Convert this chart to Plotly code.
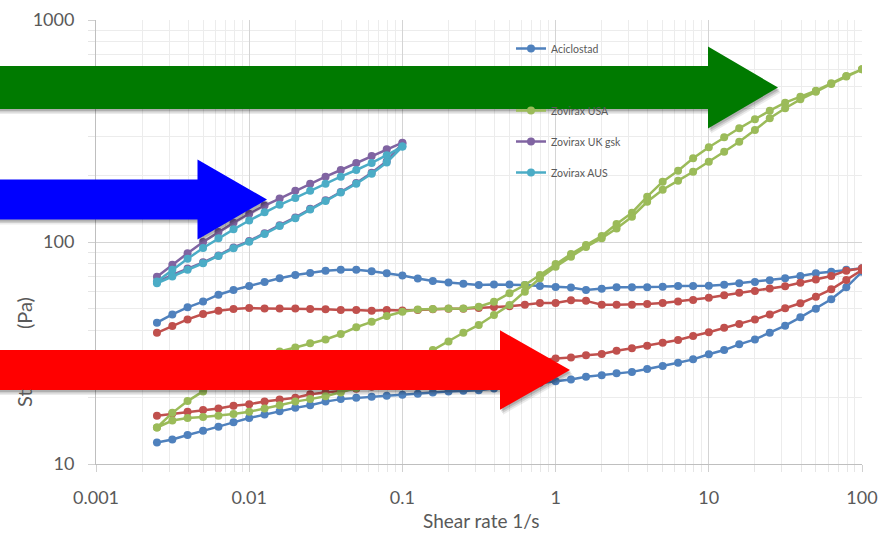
import plotly.graph_objects as go

# ---------------- data ----------------
shear_rate = [0.0025, 0.00315, 0.00396, 0.005, 0.0063, 0.0079, 0.01, 0.0126, 0.0158, 0.02,
              0.025, 0.0315, 0.0396, 0.05, 0.063, 0.079, 0.1, 0.126, 0.158, 0.2,
              0.25, 0.315, 0.396, 0.5, 0.63, 0.79, 1, 1.26, 1.58, 2,
              2.5, 3.15, 3.96, 5, 6.3, 7.9, 10, 12.6, 15.8, 20,
              25, 31.5, 39.6, 50, 63, 79, 100]
shear_rate_short = [0.0025, 0.00315, 0.00396, 0.005, 0.0063, 0.0079, 0.01, 0.0126, 0.0158, 0.02,
                    0.025, 0.0315, 0.0396, 0.05, 0.063, 0.079, 0.1]

aciclostad_up = [43.3, 47.2, 50.8, 53.9, 57.9, 60.8, 63.4, 66.1, 68.6, 71.0,
                 72.5, 74.3, 74.9, 74.9, 73.8, 72.3, 70.7, 68.5, 66.8, 65.7,
                 64.8, 64.0, 64.3, 64.3, 64.0, 63.3, 62.7, 62.3, 60.8, 61.5,
                 62.5, 62.5, 62.5, 62.9, 63.4, 63.4, 63.6, 64.2, 65.2, 66.1,
                 67.2, 68.6, 70.3, 72.3, 73.4, 74.9, 76.1]
aciclostad_down = [12.5, 12.9, 13.5, 14.1, 14.7, 15.4, 16.1, 16.7, 17.3, 17.9,
                   18.4, 19.1, 19.6, 19.9, 20.1, 20.3, 20.5, 20.7, 21.0, 21.2,
                   21.4, 21.5, 21.9, 22.3, 22.7, 23.2, 23.6, 24.0, 24.7, 25.1,
                   25.6, 26.0, 26.8, 27.6, 28.6, 29.6, 31.2, 32.6, 34.6, 36.4,
                   39.0, 42.0, 45.8, 50.1, 55.2, 62.5, 73.4]

red_up = [39.0, 41.8, 44.8, 47.4, 49.0, 49.9, 50.4, 50.2, 50.2, 50.2,
          49.9, 49.8, 49.4, 49.4, 49.0, 49.4, 49.2, 49.4, 49.8, 50.1,
          50.1, 50.4, 50.9, 51.3, 52.2, 53.1, 53.1, 54.6, 54.3, 52.2,
          52.2, 52.2, 52.6, 53.1, 54.0, 54.8, 56.1, 57.6, 59.0, 60.2,
          61.7, 63.2, 65.5, 67.8, 70.3, 74.3, 76.1]
red_down = [16.5, 16.9, 17.2, 17.5, 17.8, 18.3, 18.6, 19.1, 19.5, 19.9,
            20.6, 21.0, 21.3, 21.8, 22.3, 22.9, 23.5, 24.1, 24.8, 25.5,
            26.2, 26.9, 27.6, 28.3, 28.9, 29.4, 29.9, 30.2, 30.9, 31.3,
            32.4, 33.2, 34.1, 35.2, 36.2, 37.7, 39.2, 41.1, 42.7, 44.8,
            47.2, 50.3, 53.0, 56.7, 61.2, 67.4, 74.8]

usa_up = [14.6, 17.0, 19.2, 21.2, 23.5, 26.0, 28.3, 30.3, 32.1, 33.5,
          35.0, 36.4, 38.5, 41.3, 43.7, 46.4, 48.5, 49.7, 49.9, 50.2,
          50.2, 51.1, 53.8, 58.7, 64.0, 71.0, 79.6, 88.3, 96.9, 106.4,
          120.6, 135.5, 160.0, 186.9, 209.5, 238.2, 267.1, 296.2, 325.2, 357.1,
          390.3, 424.1, 451.3, 480.2, 518.8, 559.4, 599.6]
usa_down = [14.6, 15.7, 16.1, 16.3, 16.5, 16.8, 17.2, 17.8, 18.4, 19.1,
            19.6, 20.2, 21.0, 22.0, 23.5, 25.5, 28.0, 30.2, 32.6, 35.6,
            39.0, 42.3, 46.9, 52.0, 59.7, 68.6, 77.4, 85.9, 95.0, 104.0,
            115.0, 130.0, 151.8, 172.0, 189.0, 207.3, 230.0, 255.1, 283.0, 319.5,
            360.8, 400.2, 439.2, 475.0, 515.0, 557.0, 599.6]

uk_up = [69.8, 79, 89, 100, 111, 122, 134, 146, 157, 170, 183, 197, 211, 227, 244, 262, 280]
uk_down = [66, 71, 76, 81, 87, 94.5, 101, 109.5, 119, 129, 141, 154, 168, 184.5, 205, 231, 278]

aus_up = [66.3, 75, 84, 94, 104, 114, 125, 136, 147, 158, 170, 183, 197, 211, 227, 246, 269]
aus_down = [65.2, 70, 75, 80.2, 86.5, 93.7, 100.3, 108.6, 118, 128, 140, 153, 167, 183, 203, 228, 269]

x_ticks = [0.001, 0.01, 0.1, 1, 10, 100]
x_tick_labels = ["0.001", "0.01", "0.1", "1", "10", "100"]
y_ticks = [10, 100, 1000]
y_tick_labels = ["10", "100", "1000"]

# ---------------- layout constants ----------------
W, H = 879, 536
L, R, T, B = 96, 862, 20, 464          # plot area in window pixels
FONT = "Lato, 'Open Sans', sans-serif"
GREY = "#595959"
ARROW_RED = "#FF0000"


def loop(x, up, down):
    return list(x) + list(x)[::-1], list(up) + list(down)[::-1]


series = [
    ("Aciclostad", "#4F81BD", shear_rate, aciclostad_up, aciclostad_down, True, 1),
    ("Aciclovir", "#C0504D", shear_rate, red_up, red_down, False, 2),
    ("Zovirax USA", "#9BBB59", shear_rate, usa_up, usa_down, True, 3),
    ("Zovirax UK gsk", "#8064A2", shear_rate_short, uk_up, uk_down, True, 4),
    ("Zovirax AUS", "#4BACC6", shear_rate_short, aus_up, aus_down, True, 5),
]

fig = go.Figure()
for name, color, xs, up, down, show, rank in series:
    xx, yy = loop(xs, up, down)
    fig.add_trace(go.Scatter(
        x=xx, y=yy, name=name, mode="lines+markers",
        line=dict(color=color, width=2.5),
        marker=dict(color=color, size=8),
        showlegend=show, legendgroup=name, legendrank=rank * 10,
    ))

# blank legend slot (hidden behind the green arrow in the original)
fig.add_trace(go.Scatter(x=[None], y=[None], name=" ", mode="lines",
                         line=dict(color="rgba(0,0,0,0)"), showlegend=True,
                         legendgroup="blank", legendrank=15, hoverinfo="skip"))


def pp(px, py):
    return (px - L) / (R - L), (B - py) / (B - T)


def arrow_path(x_tail, x_head, x_tip, yc, bh, hh, dx=0, dy=0):
    pts = [(x_tail, yc - bh), (x_head, yc - bh), (x_head, yc - hh), (x_tip, yc),
           (x_head, yc + hh), (x_head, yc + bh), (x_tail, yc + bh)]
    s = []
    for i, (a, b) in enumerate(pts):
        X, Y = pp(a + dx, b + dy)
        s.append(("M " if i == 0 else "L ") + f"{X:.5f},{Y:.5f}")
    return " ".join(s) + " Z"


arrows = [
    ("#007A00", (-10, 708, 778, 87.5, 21.5, 41)),
    ("#0000FF", (-10, 197.5, 267, 199.5, 20, 40)),
    (ARROW_RED, (-10, 500, 570, 370, 20, 39.7)),
]
shapes = []
for color, args in arrows:
    for k, alpha in [(5, 0.08), (3.5, 0.12), (2, 0.15)]:
        shapes.append(dict(type="path", xref="paper", yref="paper", layer="above",
                           path=arrow_path(*args, dx=k * 0.6, dy=k),
                           fillcolor=f"rgba(0,0,0,{alpha})", line=dict(width=0)))
    shapes.append(dict(type="path", xref="paper", yref="paper", layer="above",
                       path=arrow_path(*args), fillcolor=color, line=dict(width=0)))

axis_common = dict(
    type="log", showline=True, linecolor="#bfbfbf", linewidth=1,
    ticks="outside", ticklen=7, tickcolor="#d0d0d0",
    showgrid=True, gridcolor="#d4d4d4", gridwidth=1,
    minor=dict(ticks="outside", ticklen=7, tickcolor="#e6e6e6",
               showgrid=True, gridcolor="#ececec", gridwidth=1, dtick="D1"),
    tickfont=dict(family=FONT, size=18, color=GREY),
    zeroline=False, automargin=False,
)

# the middle of the y title lies under the red arrow in the original:
# those letters take the arrow colour so they read as covered
y_title = ("St<span style='color:" + ARROW_RED + "'>ress</span>"
           "\u00a0\u00a0\u00a0\u00a0\u00a0(Pa)")

fig.update_layout(
    width=W, height=H,
    margin=dict(l=L, r=W - R, t=T, b=H - B, autoexpand=False),
    paper_bgcolor="white", plot_bgcolor="white",
    xaxis=dict(range=[-3, 2], tickvals=x_ticks, ticktext=x_tick_labels,
               ticklabelstandoff=10, **axis_common),
    yaxis=dict(range=[1, 3], tickvals=y_ticks, ticktext=y_tick_labels,
               ticklabelstandoff=10, **axis_common),
    legend=dict(x=pp(511, 0)[0], y=pp(0, 34)[1], xanchor="left", yanchor="top",
                bgcolor="rgba(0,0,0,0)", font=dict(family=FONT, size=10.5, color=GREY),
                itemwidth=30, tracegroupgap=12),
    shapes=shapes,
    annotations=[
        dict(text="Shear rate 1/s", xref="paper", yref="paper",
             x=pp(481, 0)[0], y=pp(0, 520)[1], xanchor="center", yanchor="middle",
             showarrow=False, font=dict(family=FONT, size=19, color=GREY)),
        dict(text=y_title, xref="paper", yref="paper", textangle=-90,
             x=pp(24, 0)[0], y=pp(0, 352)[1], xanchor="center", yanchor="middle",
             showarrow=False, font=dict(family=FONT, size=20, color=GREY)),
    ],
    showlegend=True,
)

# remove the default 8px page margin so the figure fills the window exactly
fig.write_html("out.html", config={"displayModeBar": False},
               post_script="document.body.style.margin='0';document.body.style.overflow='hidden';")
